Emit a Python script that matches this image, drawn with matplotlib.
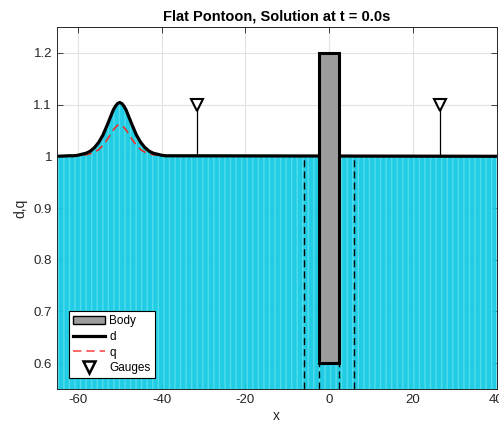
import numpy as np
import matplotlib
matplotlib.use("Agg")
import matplotlib.pyplot as plt
from matplotlib.patches import Rectangle
from matplotlib.ticker import FormatStrFormatter

plt.rcParams['font.family'] = ['Liberation Sans', 'DejaVu Sans']
plt.rcParams['axes.unicode_minus'] = False

# free surface d and q (solitary wave near x = -50)
x_pts = [-65, -62, -61, -60, -59, -58, -57, -56, -55, -54, -53, -52, -51.5, -51,
         -50.5, -50, -49.5, -49, -48.5, -48, -47, -46, -45, -44, -43, -42, -41,
         -40, -39, -38, 40]
d_pts = [1.0, 1.001, 1.001, 1.002, 1.004, 1.006, 1.010, 1.017, 1.027, 1.041, 1.060,
         1.080, 1.090, 1.097, 1.102, 1.104, 1.102, 1.097, 1.090, 1.080, 1.060,
         1.041, 1.027, 1.017, 1.010, 1.006, 1.004, 1.002, 1.001, 1.001, 1.0]
q_pts = [1.0, 1.0, 1.0, 1.001, 1.002, 1.003, 1.005, 1.008, 1.013, 1.021, 1.032,
         1.045, 1.051, 1.056, 1.060, 1.061, 1.060, 1.056, 1.051, 1.045, 1.032,
         1.021, 1.013, 1.008, 1.005, 1.003, 1.002, 1.001, 1.0, 1.0, 1.0]

body_x = [-2.5, 2.5]      # pontoon sides
body_y = [0.6, 1.2]       # draft / top
dash_x = [-6, 6]          # outer dashed lines
gauge_x = [-31.5, 26.5]
gauge_top = 1.1
still_level = 1.0

xlim = (-65, 40)
ylim = (0.55, 1.25)

fig = plt.figure(figsize=(4.99, 4.28), dpi=100)
ax = fig.add_axes([0.114, 0.091, 0.881, 0.846])

ax.grid(True, color='#e3e3e3', lw=0.8, zorder=0)
ax.set_axisbelow(True)

# water
ax.fill_between(x_pts, ylim[0], d_pts, color='#14cbe3', edgecolor='#55dcec',
                hatch='|||', lw=0, alpha=0.95, zorder=1)

# q and d
ax.plot(x_pts, q_pts, '--', color='#e8332c', lw=1.2, dashes=(5, 3), zorder=3)
ax.plot(x_pts, d_pts, '-', color='k', lw=2.3, zorder=4)

# body
body = Rectangle((body_x[0], body_y[0]), body_x[1] - body_x[0], body_y[1] - body_y[0],
                 facecolor='#9c9c9c', edgecolor='k', lw=2.2, zorder=5)
ax.add_patch(body)

# dashed verticals
for xd in dash_x:
    ax.plot([xd, xd], [ylim[0], still_level], '--', color='k', lw=1.0,
            dashes=(5, 3), zorder=6)
for xd in body_x:
    ax.plot([xd, xd], [ylim[0], body_y[0]], '--', color='k', lw=1.0,
            dashes=(5, 3), zorder=6)

# gauges
for xg in gauge_x:
    ax.plot([xg, xg], [still_level, gauge_top - 0.005], color='k', lw=0.9, zorder=6)
ax.plot(gauge_x, [gauge_top] * len(gauge_x), 'v', ms=8, mfc='white', mec='k',
        mew=1.5, ls='none', zorder=7)

# legend handles
h_body = Rectangle((0, 0), 1, 1, facecolor='#9c9c9c', edgecolor='k', lw=1.0)
h_d, = ax.plot([], [], '-', color='k', lw=2.3)
h_q, = ax.plot([], [], '--', color='#ff4d4d', lw=1.2, dashes=(5, 3))
h_g, = ax.plot([], [], 'v', ms=8, mfc='white', mec='k', mew=1.8, ls='none')
leg = ax.legend([h_body, h_d, h_q, h_g], ['Body', 'd', 'q', 'Gauges'],
                loc='lower left', bbox_to_anchor=(0.027, 0.03), fontsize=8.5,
                fancybox=False, framealpha=1, edgecolor='k', borderpad=0.35,
                labelspacing=0.3, handlelength=2.7, handletextpad=0.4,
                borderaxespad=0)
leg.get_frame().set_linewidth(0.8)
leg.set_zorder(10)

ax.set_xlim(xlim)
ax.set_ylim(ylim)
ax.set_xticks([-60, -40, -20, 0, 20, 40])
ax.set_yticks([0.6, 0.7, 0.8, 0.9, 1.0, 1.1, 1.2])
ax.yaxis.set_major_formatter(FormatStrFormatter('%g'))
ax.tick_params(direction='in', top=True, right=True, length=4, width=0.6,
               labelsize=9.5, colors='#262626')
for s in ax.spines.values():
    s.set_linewidth(0.7)
    s.set_color('#262626')
    s.set_zorder(11)

ax.set_title('Flat Pontoon, Solution at t = 0.0s', fontsize=10.5,
             fontweight='bold', pad=5)
ax.set_xlabel('x', fontsize=10, color='#262626', labelpad=2)
ax.set_ylabel('d,q', fontsize=10, color='#262626', labelpad=4)

fig.savefig('out.png', dpi=100)
